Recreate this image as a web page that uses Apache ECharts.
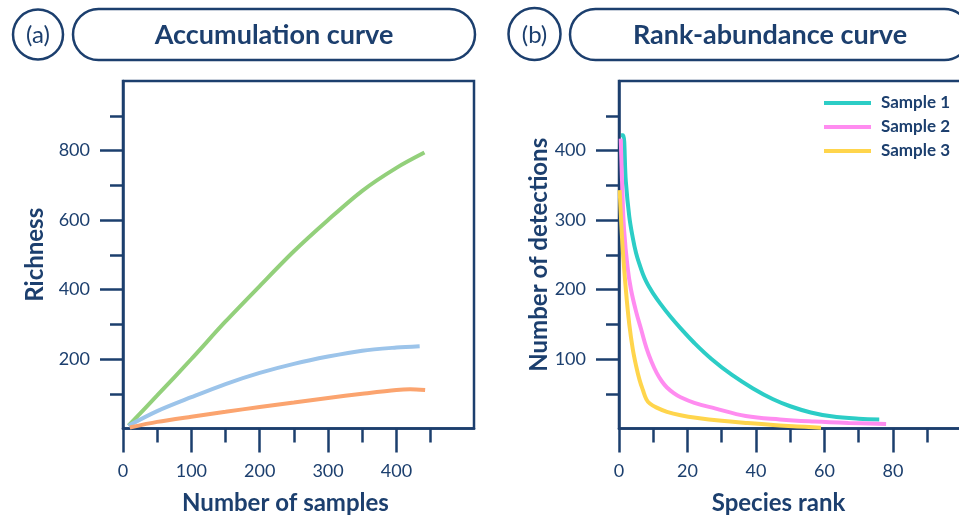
<!DOCTYPE html>
<html>
<head>
<meta charset="utf-8">
<title>Accumulation and rank-abundance curves</title>
<script src="https://cdn.jsdelivr.net/npm/echarts@6.0.0/dist/echarts.min.js"></script>
<style>
  html, body { margin: 0; padding: 0; background: #fff; }
  #chart { width: 959px; height: 517px; }
</style>
</head>
<body>
<div id="chart"></div>
<script>
// panel (a) accumulation curves: [samples, richness]
var accGreen = [[8, 8], [50, 95], [100, 200], [150, 308], [200, 410], [250, 510], [300, 600], [350, 684], [400, 750], [441, 794]];
var accBlue = [[8, 8], [50, 50], [100, 90], [150, 128], [200, 160], [250, 186], [300, 207], [350, 224], [400, 233], [434, 237]];
var accOrange = [[10, 3], [50, 19], [100, 34], [150, 48], [200, 62], [250, 75], [300, 88], [350, 100], [400, 111], [420, 113], [442, 111]];

// panel (b) rank-abundance curves: [species rank, number of detections]
var sample1 = [[0.6, 422], [1.2, 422], [2, 355], [3, 305], [4, 275], [5, 252], [6, 236], [7, 222], [8, 211], [9, 202], [10, 194], [12, 180], [15, 161], [18, 144], [22, 123], [27, 100], [33, 77], [39, 58], [45, 42], [50, 32], [56, 23], [62, 17.5], [70, 14], [76, 13]];
var sample2 = [[0.5, 417], [1, 340], [1.5, 285], [2.5, 232], [3.5, 200], [5, 168], [6.5, 142], [8, 116], [9.5, 96], [11, 80], [12.5, 68], [14, 59], [16, 51], [18, 45], [22, 37], [28, 29], [37, 18], [47, 13], [57, 10], [67, 8], [78, 6.5]];
var sample3 = [[0.2, 343], [1, 265], [2, 200], [3, 150], [4, 115], [5, 90], [6, 70], [7, 55], [8, 42], [9, 36], [11, 30], [14, 24], [18, 19], [23, 15], [30, 11], [37, 8], [45, 5], [52, 3], [59, 1]];
var sampleNames = ['Sample 1', 'Sample 2', 'Sample 3'];

// tick values
var accXMajor = [0, 100, 200, 300, 400];
var accXMinor = [50, 150, 250, 350, 450];
var accYMajor = [200, 400, 600, 800];
var accYMinor = [100, 300, 500, 700, 900];
var rankXMajor = [0, 20, 40, 60, 80, 100];
var rankXLabels = [0, 20, 40, 60, 80];
var rankXMinor = [10, 30, 50, 70, 90];
var rankYMajor = [100, 200, 300, 400];
var rankYMinor = [50, 150, 250, 350, 450];

var navy = '#1c3f6e';
var font = 'Lato, "Open Sans", sans-serif';

function majorAxis(gridIndex, min, max, major, labels, isX, name, gap, pad) {
  return {
    type: 'value',
    gridIndex: gridIndex,
    min: min,
    max: max,
    position: isX ? 'bottom' : 'left',
    name: name,
    nameLocation: 'middle',
    nameGap: gap,
    nameTextStyle: { color: navy, fontFamily: font, fontWeight: 'bold', fontSize: 24, padding: pad },
    axisLine: { show: true, lineStyle: { color: navy, width: 2.5 } },
    axisTick: { show: true, length: isX ? 24 : 23, customValues: major, lineStyle: { color: navy, width: 2.5 } },
    axisLabel: { show: true, customValues: labels, margin: isX ? 34 : 33, color: navy, fontFamily: font, fontSize: 18 },
    splitLine: { show: false }
  };
}

function minorAxis(gridIndex, min, max, minor, isX) {
  return {
    type: 'value',
    gridIndex: gridIndex,
    min: min,
    max: max,
    position: isX ? 'bottom' : 'left',
    axisLine: { show: false },
    axisTick: { show: true, length: isX ? 14 : 13, customValues: minor, lineStyle: { color: navy, width: 2.5 } },
    axisLabel: { show: false },
    splitLine: { show: false }
  };
}

function curve(name, data, color, xi, yi, smooth) {
  return {
    name: name,
    type: 'line',
    xAxisIndex: xi,
    yAxisIndex: yi,
    data: data,
    smooth: smooth,
    showSymbol: false,
    lineStyle: { color: color, width: 4 },
    itemStyle: { color: color }
  };
}

var chart = echarts.init(document.getElementById('chart'));
chart.setOption({
  animation: false,
  grid: [
    { left: 123, top: 81, width: 351, height: 347.5, show: true, borderColor: navy, borderWidth: 2.5, outerBoundsMode: 'none' },
    { left: 619, top: 81, width: 351, height: 347.5, show: true, borderColor: navy, borderWidth: 2.5, outerBoundsMode: 'none' }
  ],
  xAxis: [
    majorAxis(0, 0, 513.5, accXMajor, accXMajor, true, 'Number of samples', 63, [0, 26, 0, 0]),
    minorAxis(0, 0, 513.5, accXMinor, true),
    majorAxis(1, 0, 102.5, rankXMajor, rankXLabels, true, 'Species rank', 63, [0, 32, 0, 0]),
    minorAxis(1, 0, 102.5, rankXMinor, true)
  ],
  yAxis: [
    majorAxis(0, 0, 1000, accYMajor, accYMajor, false, 'Richness', 76, 0),
    minorAxis(0, 0, 1000, accYMinor, false),
    majorAxis(1, 0, 500, rankYMajor, rankYMajor, false, 'Number of detections', 66, 0),
    minorAxis(1, 0, 500, rankYMinor, false)
  ],
  legend: {
    data: sampleNames,
    orient: 'vertical',
    left: 824,
    top: 93,
    padding: 0,
    icon: 'rect',
    itemWidth: 47,
    itemHeight: 4,
    itemGap: 4,
    textStyle: { color: navy, fontFamily: font, fontWeight: 'bold', fontSize: 17, lineHeight: 20, padding: [0, 0, 0, 5] }
  },
  graphic: [
    { type: 'circle', shape: { cx: 38, cy: 34.5, r: 25 }, style: { fill: 'none', stroke: navy, lineWidth: 2.5 } },
    { type: 'rect', shape: { x: 73, y: 9, width: 402, height: 51, r: 25.5 }, style: { fill: 'none', stroke: navy, lineWidth: 2.5 } },
    { type: 'text', x: 38, y: 35, style: { text: '(a)', fill: navy, font: '24px ' + font, align: 'center', verticalAlign: 'middle' } },
    { type: 'text', x: 274, y: 35, style: { text: 'Accumulation curve', fill: navy, font: 'bold 27px ' + font, align: 'center', verticalAlign: 'middle' } },
    { type: 'circle', shape: { cx: 534.5, cy: 34, r: 26 }, style: { fill: 'none', stroke: navy, lineWidth: 2.5 } },
    { type: 'rect', shape: { x: 570, y: 9, width: 400, height: 51, r: 25.5 }, style: { fill: 'none', stroke: navy, lineWidth: 2.5 } },
    { type: 'text', x: 534.5, y: 35, style: { text: '(b)', fill: navy, font: '24px ' + font, align: 'center', verticalAlign: 'middle' } },
    { type: 'text', x: 770, y: 35, style: { text: 'Rank-abundance curve', fill: navy, font: 'bold 27px ' + font, align: 'center', verticalAlign: 'middle' } }
  ],
  series: [
    curve('Species A', accGreen, '#93d07b', 0, 0, 0.3),
    curve('Species B', accBlue, '#9cc4ea', 0, 0, 0.3),
    curve('Species C', accOrange, '#fba46f', 0, 0, 0.3),
    curve(sampleNames[0], sample1, '#2ccdc6', 2, 2, 0.4),
    curve(sampleNames[1], sample2, '#ff8cf0', 2, 2, 0.4),
    curve(sampleNames[2], sample3, '#ffd54c', 2, 2, 0.4)
  ]
});
</script>
</body>
</html>
